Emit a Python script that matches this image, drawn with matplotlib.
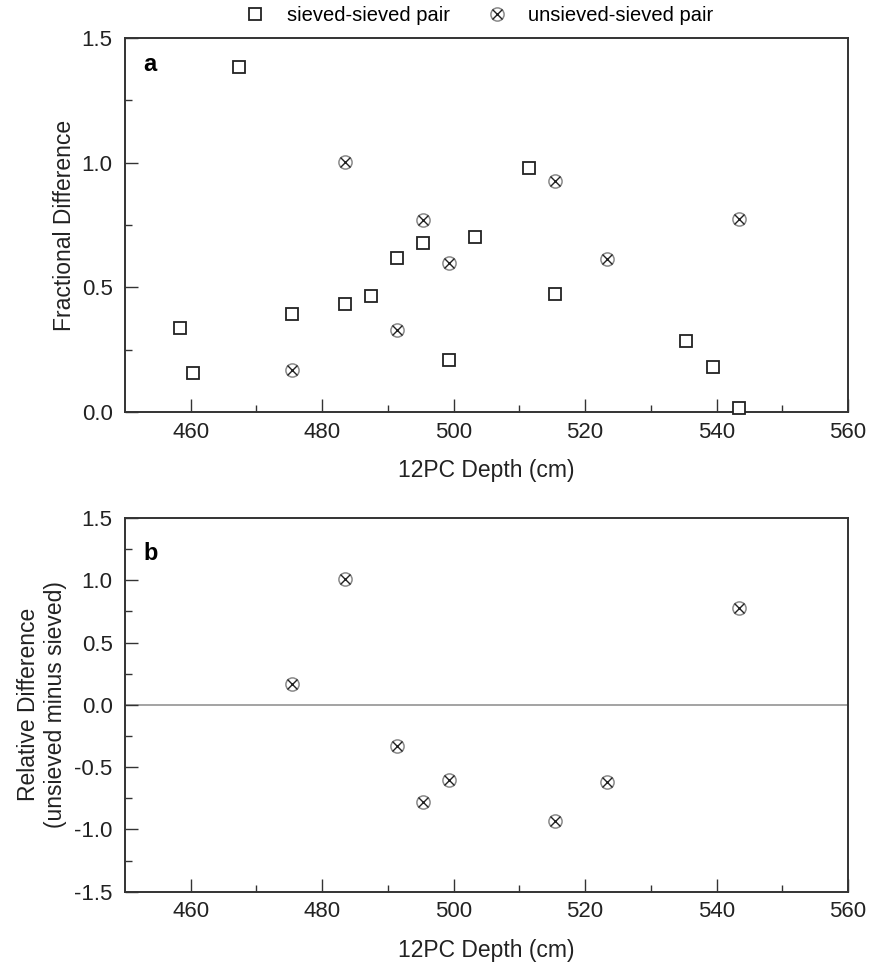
import matplotlib
matplotlib.use('Agg')
import matplotlib.pyplot as plt
from matplotlib.legend_handler import HandlerTuple

plt.rcParams['font.family'] = ['Liberation Sans', 'DejaVu Sans']

# sieved-sieved pairs (fractional difference)
ss_depth = [458.4, 460.4, 467.4, 475.4, 483.4, 487.4, 491.4, 495.3, 499.3, 503.3, 511.4, 515.4, 535.3, 539.4, 543.4]
ss_frac = [0.337, 0.155, 1.383, 0.395, 0.432, 0.465, 0.617, 0.677, 0.208, 0.700, 0.977, 0.475, 0.283, 0.180, 0.015]

# unsieved-sieved pairs
us_depth = [475.4, 483.4, 491.4, 495.3, 499.3, 515.4, 523.4, 543.4]
us_frac = [0.169, 1.002, 0.329, 0.772, 0.596, 0.926, 0.613, 0.776]
us_rel = [0.17, 1.01, -0.33, -0.78, -0.60, -0.93, -0.62, 0.78]

dark = '#333333'
fs_tick = 16
fs_lab = 16.5

fig = plt.figure(figsize=(8.7, 9.69), dpi=100)
ax1 = fig.add_axes([0.1437, 0.5748, 0.831, 0.386])
ax2 = fig.add_axes([0.1437, 0.0798, 0.831, 0.3856])


def crossed(ax, x, y):
    c, = ax.plot(x, y, 'o', ms=9.5, mfc='white', mec='#8a8a8a', mew=1.1, ls='none', zorder=3, clip_on=False)
    k, = ax.plot(x, y, 'x', ms=6.6, mec='#222222', mew=1.0, ls='none', zorder=4, clip_on=False)
    return c, k


def style(ax):
    for s in ax.spines.values():
        s.set_color(dark)
        s.set_linewidth(1.4)
    ax.set_xlim(450, 560)
    ax.set_xticks([460, 480, 500, 520, 540, 560])
    ax.set_xticks([470, 490, 510, 530, 550], minor=True)
    ax.tick_params(which='both', direction='in', color=dark, width=1.0,
                   labelsize=fs_tick, labelcolor='#222222', pad=9)
    ax.tick_params(which='major', length=9.5)
    ax.tick_params(which='minor', length=5)
    ax.tick_params(axis='x', pad=7)
    ax.set_xlabel('12PC Depth (cm)', fontsize=fs_lab, color='#222222', labelpad=12)


# panel a
sq, = ax1.plot(ss_depth, ss_frac, 's', ms=8.3, mfc='white', mec='#222222', mew=1.3,
               ls='none', zorder=3, clip_on=False)
hc = crossed(ax1, us_depth, us_frac)
style(ax1)
ax1.set_ylim(0, 1.5)
ax1.set_yticks([0.0, 0.5, 1.0, 1.5])
ax1.set_yticks([0.25, 0.75, 1.25], minor=True)
ax1.set_yticklabels(['0.0', '0.5', '1.0', '1.5'])
ax1.set_ylabel('Fractional Difference', fontsize=fs_lab, color='#222222', labelpad=4)
ax1.text(0.025, 0.93, 'a', transform=ax1.transAxes, fontsize=17, fontweight='bold', va='center')

fig.legend([sq, hc], ['sieved-sieved pair', 'unsieved-sieved pair'],
           handler_map={tuple: HandlerTuple(ndivide=1)},
           loc='center', bbox_to_anchor=(0.551, 0.9835), ncol=2, frameon=False,
           fontsize=14.5, handlelength=1.0, handletextpad=1.05, columnspacing=1.85)

# panel b
ax2.axhline(0, color='#8a8a8a', lw=1.1, zorder=1)
crossed(ax2, us_depth, us_rel)
style(ax2)
ax2.set_ylim(-1.5, 1.5)
ax2.set_yticks([-1.5, -1.0, -0.5, 0.0, 0.5, 1.0, 1.5])
ax2.set_yticks([-1.25, -0.75, -0.25, 0.25, 0.75, 1.25], minor=True)
ax2.set_yticklabels(['-1.5', '-1.0', '-0.5', '0.0', '0.5', '1.0', '1.5'])
ax2.set_ylabel('Relative Difference\n(unsieved minus sieved)', fontsize=fs_lab, color='#222222',
               labelpad=5, linespacing=1.25)
ax2.text(0.025, 0.905, 'b', transform=ax2.transAxes, fontsize=17, fontweight='bold', va='center')

fig.savefig('out.png', dpi=100)
